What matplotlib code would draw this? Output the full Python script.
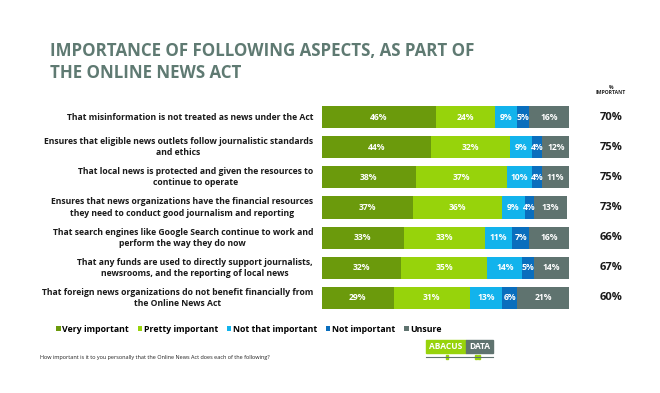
import matplotlib.pyplot as plt
import matplotlib.transforms as mtransforms
from matplotlib.patches import Rectangle

plt.rcParams['font.family'] = ['Open Sans', 'DejaVu Sans']

statements = [
    'That misinformation is not treated as news under the Act',
    'Ensures that eligible news outlets follow journalistic standards\nand ethics',
    'That local news is protected and given the resources to\ncontinue to operate',
    'Ensures that news organizations have the financial resources\nthey need to conduct good journalism and reporting',
    'That search engines like Google Search continue to work and\nperform the way they do now',
    'That any funds are used to directly support journalists,\nnewsrooms, and the reporting of local news',
    'That foreign news organizations do not benefit financially from\nthe Online News Act',
]
very_important = [46, 44, 38, 37, 33, 32, 29]
pretty_important = [24, 32, 37, 36, 33, 35, 31]
not_that_important = [9, 9, 10, 9, 11, 14, 13]
not_important = [5, 4, 4, 4, 7, 5, 6]
unsure = [16, 12, 11, 13, 16, 14, 21]
pct_important = [70, 75, 75, 73, 66, 67, 60]

series_names = ['Very important', 'Pretty important', 'Not that important', 'Not important', 'Unsure']
series = [very_important, pretty_important, not_that_important, not_important, unsure]
colors = ['#6b9a0c', '#97d30b', '#12b3ec', '#0a6ebd', '#5f736f']

fig = plt.figure(figsize=(6.6, 3.93), dpi=100)
fig.patch.set_facecolor('white')

# title
fig.text(50 / 660, 1 - 62 / 393, 'IMPORTANCE OF FOLLOWING ASPECTS, AS PART OF\nTHE ONLINE NEWS ACT',
         fontsize=12.2, fontweight='bold', color='#5f7a72', va='center', ha='left', linespacing=1.25)
fig.text(611 / 660, 1 - 90 / 393, '%\nIMPORTANT', fontsize=3.6, fontweight='bold',
         ha='center', va='center', color='#222222')

ax = fig.add_axes([322 / 660, 1 - 313 / 393, 247 / 660, 211 / 393])
rows = list(range(len(statements)))
left = [0] * len(statements)
for name, vals, col in zip(series_names, series, colors):
    ax.barh(rows, vals, left=left, height=0.73, color=col, label=name)
    for i, v in enumerate(vals):
        ax.text(left[i] + v / 2, i, f'{v}%', ha='center', va='center',
                color='white', fontsize=6.2, fontweight='bold')
    left = [l + v for l, v in zip(left, vals)]

ax.set_xlim(0, 100)
ax.set_ylim(len(statements) - 0.5, -0.5)
ax.axis('off')

trans = mtransforms.blended_transform_factory(ax.transAxes, ax.transData)
for i, s in enumerate(statements):
    ax.text(-0.036, i, s, transform=trans, ha='right', va='center', multialignment='center',
            fontsize=6.2, fontweight='bold', color='#1a1a1a', linespacing=1.3)
    ax.text(1.17, i, f'{pct_important[i]}%', transform=trans, ha='center', va='center',
            fontsize=8, fontweight='bold', color='#1a1a1a')

# legend
leg = fig.legend(loc='center', bbox_to_anchor=(249 / 660, 1 - 329 / 393), ncol=5, frameon=False,
                 handlelength=0.5, handleheight=0.5, handletextpad=0.2,
                 columnspacing=1.0, prop={'weight': 'bold', 'size': 6.3})

fig.text(40 / 660, 1 - 357 / 393, 'How important is it to you personally that the Online News Act does each of the following?',
         fontsize=4.0, color='#222222', ha='left', va='center')

# logo
fig.patches.append(Rectangle((426 / 660, 1 - 353 / 393), 40 / 660, 13 / 393,
                             transform=fig.transFigure, color='#97d30b'))
fig.patches.append(Rectangle((466 / 660, 1 - 353 / 393), 27 / 660, 13 / 393,
                             transform=fig.transFigure, color='#5f736f'))
fig.text(446 / 660, 1 - 346.5 / 393, 'ABACUS', fontsize=6, fontweight='bold', color='white',
         ha='center', va='center')
fig.text(479.5 / 660, 1 - 346.5 / 393, 'DATA', fontsize=6, fontweight='bold', color='white',
         ha='center', va='center')
fig.lines.append(plt.Line2D([426 / 660, 493 / 660], [1 - 357 / 393, 1 - 357 / 393],
                            transform=fig.transFigure, color='#5f736f', linewidth=0.8))
for lx in [447, 476, 479]:
    fig.patches.append(Rectangle(((lx - 1) / 660, 1 - 359 / 393), 2 / 660, 4 / 393,
                                 transform=fig.transFigure, color='#97d30b'))

fig.savefig('out.png', dpi=100)
